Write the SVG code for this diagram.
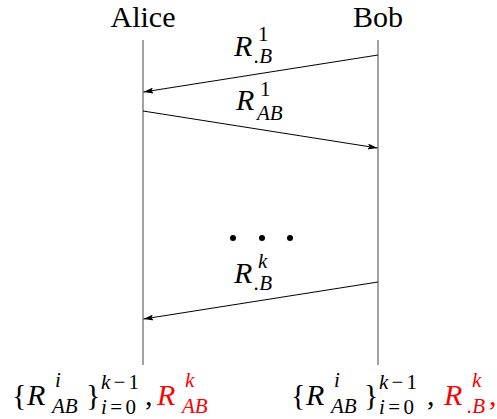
<svg xmlns="http://www.w3.org/2000/svg" width="497" height="419" viewBox="0 0 497 419">
<style>
text{font-family:"Liberation Serif","Noto Serif","DejaVu Serif",Times,serif}
.n{font-size:30px}
.m{font-size:30px;font-style:italic}
.s{font-size:21px;font-style:italic}
.su{font-size:21px}
.r{fill:#ff0000}
.life{stroke:#444;stroke-width:1;fill:none}
.msg{stroke:#000;stroke-width:1;fill:none;marker-end:url(#ah)}
</style>
<defs>
<marker id="ah" viewBox="0 0 10 6" refX="10" refY="3" markerWidth="10" markerHeight="6" markerUnits="userSpaceOnUse" orient="auto">
<path d="M0,0 L10,3 L0,6 L2,3 Z" fill="#000"/>
</marker>
</defs>
<g id="alice">
<text class="n" x="143" y="27" text-anchor="middle">Alice</text>
<line class="life" x1="143" y1="40" x2="143" y2="365"/>
</g>
<g id="bob">
<text class="n" x="378" y="27" text-anchor="middle">Bob</text>
<line class="life" x1="378" y1="40" x2="378" y2="365"/>
</g>
<g id="connectors">
<line class="msg" x1="378" y1="55" x2="143.5" y2="92"/>
<line class="msg" x1="143" y1="111" x2="377.5" y2="148"/>
<line class="msg" x1="378" y1="282" x2="143.5" y2="319"/>
</g>
<g id="label1">
<text class="m" x="234" y="56">R</text>
<text class="su" x="258" y="41">1</text>
<text class="s" x="254" y="63">.B</text>
</g>
<g id="label2">
<text class="m" x="236" y="110">R</text>
<text class="su" x="260" y="96">1</text>
<text class="s" x="257" y="120">AB</text>
</g>
<g id="dots">
<circle cx="233" cy="238" r="3"/>
<circle cx="262" cy="238" r="3"/>
<circle cx="290" cy="238" r="3"/>
</g>
<g id="labelk">
<text class="m" x="234" y="283">R</text>
<text class="s" x="258" y="268">k</text>
<text class="s" x="254" y="290">.B</text>
</g>
<g id="aliceState">
<text class="n" x="12" y="405">{</text>
<text class="m" x="27" y="405">R</text>
<text class="s" x="55" y="387">i</text>
<text class="s" x="52" y="413">AB</text>
<text class="n" x="86" y="405">}</text>
<text class="s" x="101" y="389" textLength="38" lengthAdjust="spacing">k<tspan font-style="normal">−1</tspan></text>
<text class="s" x="101" y="414" textLength="35" lengthAdjust="spacing">i<tspan font-style="normal">=0</tspan></text>
<text class="n" x="145" y="405">,</text>
<text class="m r" x="157" y="405">R</text>
<text class="s r" x="185" y="387">k</text>
<text class="s r" x="182" y="413">AB</text>
</g>
<g id="bobState">
<text class="n" x="291" y="405">{</text>
<text class="m" x="306" y="405">R</text>
<text class="s" x="334" y="387">i</text>
<text class="s" x="331" y="413">AB</text>
<text class="n" x="364" y="405">}</text>
<text class="s" x="379" y="389" textLength="38" lengthAdjust="spacing">k<tspan font-style="normal">−1</tspan></text>
<text class="s" x="379" y="414" textLength="35" lengthAdjust="spacing">i<tspan font-style="normal">=0</tspan></text>
<text class="n" x="427" y="405">,</text>
<text class="m r" x="444" y="405">R</text>
<text class="s r" x="472" y="387">k</text>
<text class="s r" x="467" y="413">.B</text>
<text class="n r" x="489" y="405">,</text>
</g>
</svg>
